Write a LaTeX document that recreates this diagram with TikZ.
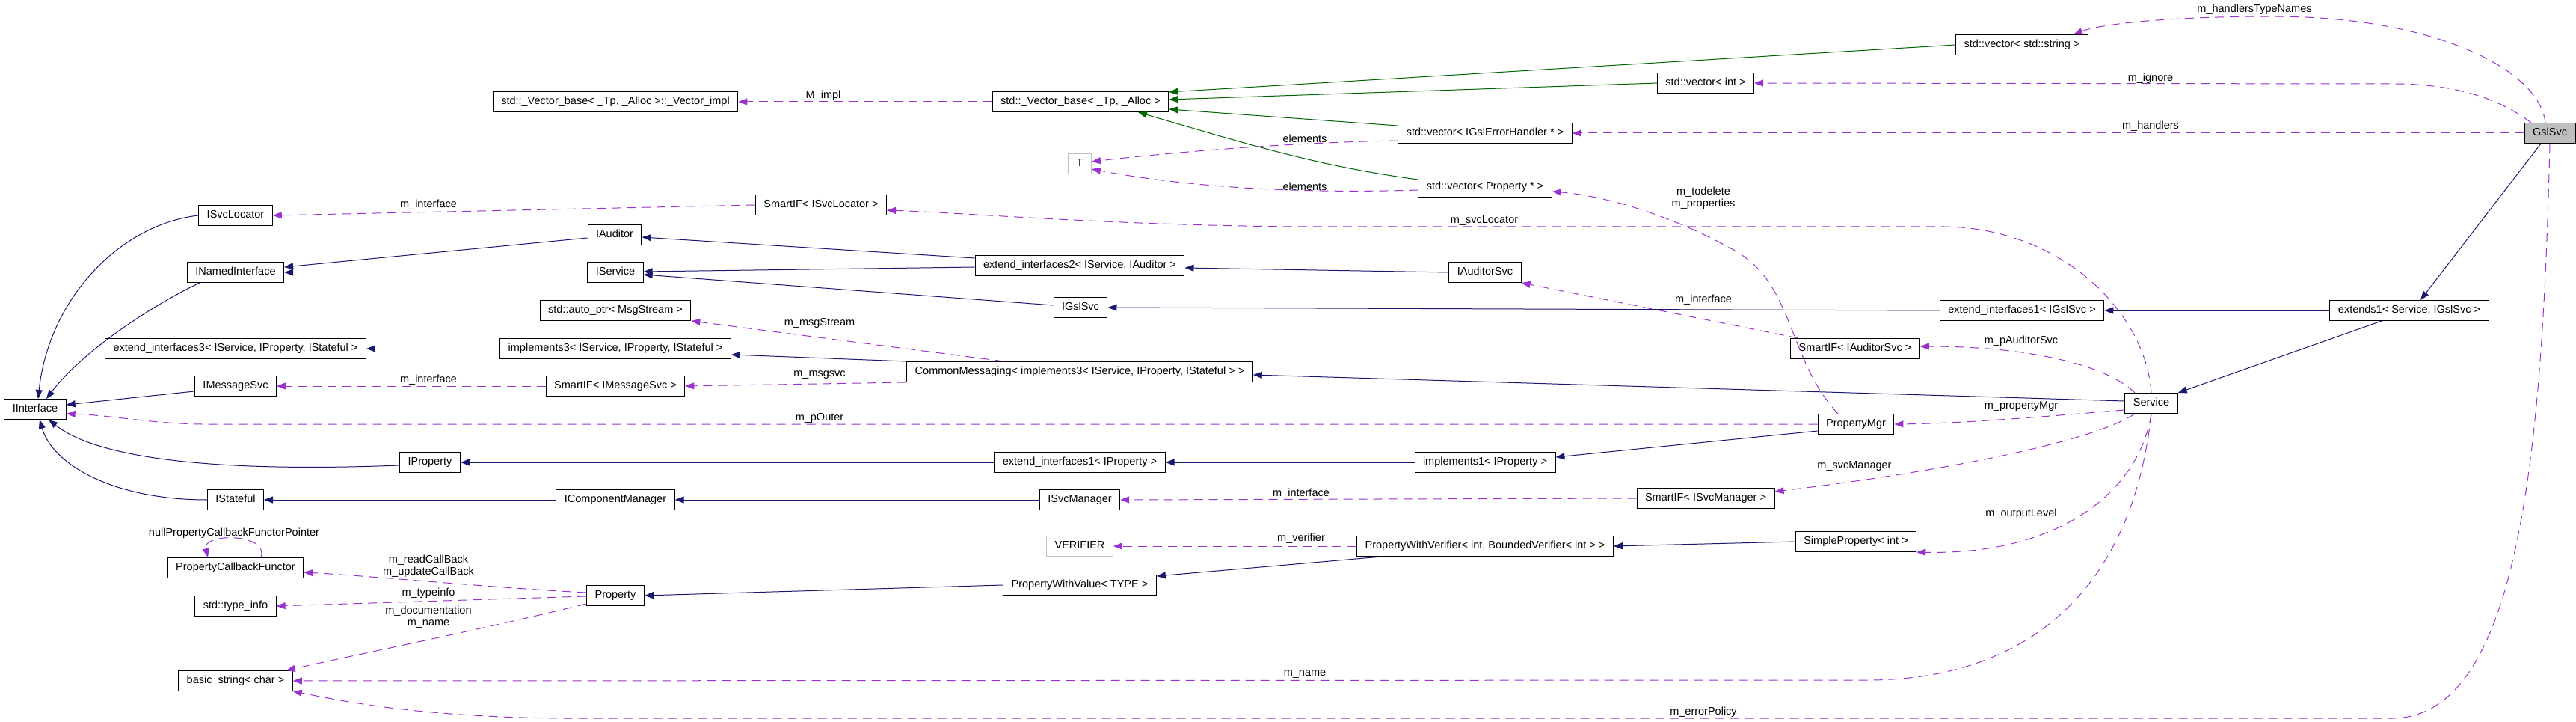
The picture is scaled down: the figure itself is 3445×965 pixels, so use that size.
\documentclass[tikz,border=0pt]{standalone}
\usepackage{fontspec}
\setmainfont{Liberation Sans}
\usetikzlibrary{arrows.meta}
\definecolor{inhblue}{HTML}{191970}
\definecolor{instgreen}{HTML}{006400}
\definecolor{usepurple}{HTML}{9A32CD}
\definecolor{boxgray}{HTML}{BFBFBF}

\begin{document}
\begin{tikzpicture}[x=1pt,y=-1pt,
		font=\fontsize{14.5}{16}\selectfont,
		>={Triangle[length=12pt,width=9pt]},
		cls/.style={draw,line width=1pt,fill=white,minimum height=27pt,inner xsep=11pt,inner ysep=0pt,text height=10.5pt,text depth=3pt},
		undoc/.style={cls,draw=boxgray},
		focus/.style={cls,fill=boxgray},
		lbl/.style={inner sep=0pt,align=center},
		inh/.style={->,draw=inhblue,line width=1pt},
		inst/.style={->,draw=instgreen,line width=1pt},
		use/.style={->,draw=usepurple,line width=1pt,dash pattern=on 12pt off 8pt}]

	\useasboundingbox (0,0) rectangle (3445,965);

	\node [cls] (vimpl) at (823,136) {std::\_Vector\_base< \_Tp, \_Alloc >::\_Vector\_impl};
	\node [cls] (vbase) at (1445,136) {std::\_Vector\_base< \_Tp, \_Alloc >};
	\node [cls] (vstring) at (2704,60) {std::vector< std::string >};
	\node [cls] (vint) at (2281,111) {std::vector< int >};
	\node [cls] (vhandler) at (1986,178) {std::vector< IGslErrorHandler * >};
	\node [cls] (vprop) at (1986,250) {std::vector< Property * >};
	\node [undoc] (tparam) at (1444,219) {T};
	\node [focus] (gslsvc) at (3410,178) {GslSvc};
	\node [cls] (isvcloc) at (315,288) {ISvcLocator};
	\node [cls] (smartloc) at (1098,274) {SmartIF< ISvcLocator >};
	\node [cls] (iauditor) at (822,314) {IAuditor};
	\node [cls] (inamed) at (315,364) {INamedInterface};
	\node [cls] (iservice) at (823,364) {IService};
	\node [cls] (ext2) at (1444,355) {extend\_interfaces2< IService, IAuditor >};
	\node [cls] (iauditsvc) at (1986,364) {IAuditorSvc};
	\node [cls] (iglsvc) at (1445,411) {IGslSvc};
	\node [cls] (autoptr) at (823,415) {std::auto\_ptr< MsgStream >};
	\node [cls] (ext1gsl) at (2704,415) {extend\_interfaces1< IGslSvc >};
	\node [cls] (extends) at (3222,415) {extends1< Service, IGslSvc >};
	\node [cls] (ext3) at (315,466) {extend\_interfaces3< IService, IProperty, IStateful >};
	\node [cls] (impl3) at (823,466) {implements3< IService, IProperty, IStateful >};
	\node [cls] (smartaud) at (2481,466) {SmartIF< IAuditorSvc >};
	\node [cls] (commsg) at (1444,497) {CommonMessaging< implements3< IService, IProperty, IStateful > >};
	\node [cls] (imsgsvc) at (315,516) {IMessageSvc};
	\node [cls] (smartmsg) at (823,516) {SmartIF< IMessageSvc >};
	\node [cls] (service) at (2877,539) {Service};
	\node [cls] (iinterface) at (47,547) {IInterface};
	\node [cls] (propmgr) at (2482,567) {PropertyMgr};
	\node [cls] (iproperty) at (575,618) {IProperty};
	\node [cls] (ext1prop) at (1444,618) {extend\_interfaces1< IProperty >};
	\node [cls] (impl1) at (1986,618) {implements1< IProperty >};
	\node [cls] (istateful) at (315,668) {IStateful};
	\node [cls] (icompmgr) at (823,668) {IComponentManager};
	\node [cls] (isvcmgr) at (1444,668) {ISvcManager};
	\node [cls] (smartmgr) at (2281,666) {SmartIF< ISvcManager >};
	\node [undoc] (verifier) at (1444,730) {VERIFIER};
	\node [cls] (pwverif) at (1986,730) {PropertyWithVerifier< int, BoundedVerifier< int > >};
	\node [cls] (simpleprop) at (2482,724) {SimpleProperty< int >};
	\node [cls] (callback) at (315,759) {PropertyCallbackFunctor};
	\node [cls] (property) at (823,796) {Property};
	\node [cls] (pwvalue) at (1444,782) {PropertyWithValue< TYPE >};
	\node [cls] (typeinfo) at (315,810) {std::type\_info};
	\node [cls] (bstring) at (315,910) {basic\_string< char >};

	\node [lbl] (l-mimpl) at (1097,128) {\_M\_impl};
	\node [lbl] (l-elem1) at (1745,185) {elements};
	\node [lbl] (l-elem2) at (1745,249) {elements};
	\node [lbl] (l-typenames) at (3015,13) {m\_handlersTypeNames};
	\node [lbl] (l-ignore) at (2876,105) {m\_ignore};
	\node [lbl] (l-handlers) at (2876,169) {m\_handlers};
	\node [lbl] (l-locif) at (573,274) {m\_interface};
	\node [lbl] (l-svcloc) at (1985,295) {m\_svcLocator};
	\node [lbl] (l-props) at (2278,265) {m\_todelete\\m\_properties};
	\node [lbl] (l-audif) at (2278,401) {m\_interface};
	\node [lbl] (l-msgstream) at (1096,432) {m\_msgStream};
	\node [lbl] (l-pauditor) at (2703,456) {m\_pAuditorSvc};
	\node [lbl] (l-msgsvc) at (1096,501) {m\_msgsvc};
	\node [lbl] (l-msgif) at (573,508) {m\_interface};
	\node [lbl] (l-propmgr) at (2703,543) {m\_propertyMgr};
	\node [lbl] (l-pouter) at (1096,559) {m\_pOuter};
	\node [lbl] (l-svcmgr) at (2480,623) {m\_svcManager};
	\node [lbl] (l-mgrif) at (1740,660) {m\_interface};
	\node [lbl] (l-outlevel) at (2703,687) {m\_outputLevel};
	\node [lbl] (l-nullcb) at (313,713) {nullPropertyCallbackFunctorPointer};
	\node [lbl] (l-verifier) at (1740,720) {m\_verifier};
	\node [lbl] (l-callback) at (573,757) {m\_readCallBack\\m\_updateCallBack};
	\node [lbl] (l-typeinfo) at (573,793) {m\_typeinfo};
	\node [lbl] (l-doc) at (573,825) {m\_documentation\\m\_name};
	\node [lbl] (l-name) at (1745,901) {m\_name};
	\node [lbl] (l-errpolicy) at (2278,952) {m\_errorPolicy};

	% inheritance
	\draw [inh] (isvcloc.west) .. controls (160,300) and (65,400) .. ([xshift=4pt]iinterface.north);
	\draw [inh] ([xshift=17pt]inamed.south west) .. controls (200,410) and (110,470) .. ([xshift=15pt]iinterface.north);
	\draw [inh] ([yshift=-7pt]imsgsvc.west) -- ([yshift=6pt]iinterface.east);
	\draw [inh] ([yshift=-4pt]iproperty.west) .. controls (330,630) and (140,620) .. ([xshift=18pt]iinterface.south);
	\draw [inh] (istateful.west) .. controls (150,668) and (70,620) .. ([xshift=6pt]iinterface.south);
	\draw [inh] ([yshift=-4pt]iauditor.west) -- ([yshift=7pt]inamed.east);
	\draw [inh] (iservice.west) -- (inamed.east);
	\draw [inh] ([yshift=10pt]ext2.west) -- ([yshift=-3pt]iauditor.east);
	\draw [inh] ([yshift=-2pt]ext2.west) -- ([yshift=1pt]iservice.east);
	\draw [inh] ([yshift=3pt]iglsvc.west) -- ([yshift=-3pt]iservice.east);
	\draw [inh] (iauditsvc.west) -- ([yshift=-3pt]ext2.east);
	\draw [inh] (ext1gsl.west) -- (iglsvc.east);
	\draw [inh] (extends.west) -- (ext1gsl.east);
	\draw [inh] ([xshift=-12pt]gslsvc.south) -- ([xshift=15pt]extends.north);
	\draw [inh] ([xshift=-37pt]extends.south) -- (service.north east);
	\draw [inh] ([yshift=3pt]service.west) -- ([yshift=-4pt]commsg.east);
	\draw [inh] (commsg.north west) -- ([yshift=-8pt]impl3.east);
	\draw [inh] (impl3.west) -- (ext3.east);
	\draw [inh] ([yshift=-9pt]propmgr.west) -- ([yshift=7pt]impl1.east);
	\draw [inh] (impl1.west) -- (ext1prop.east);
	\draw [inh] (ext1prop.west) -- (iproperty.east);
	\draw [inh] (icompmgr.west) -- (istateful.east);
	\draw [inh] (isvcmgr.west) -- (icompmgr.east);
	\draw [inh] ([xshift=34pt]pwverif.south west) -- ([yshift=12pt]pwvalue.east);
	\draw [inh] (simpleprop.west) -- (pwverif.east);
	\draw [inh] (pwvalue.west) -- (property.east);

	% template instances
	\draw [inst] (vstring.west) -- ([yshift=13pt]vbase.east);
	\draw [inst] (vint.west) -- ([yshift=3pt]vbase.east);
	\draw [inst] ([yshift=10pt]vhandler.west) -- ([yshift=-10pt]vbase.east);
	\draw [inst] ([yshift=10pt]vprop.west) .. controls (1760,222) and (1660,190) .. ([xshift=77pt]vbase.south);

	% usage
	\draw [use] (vbase.west) -- (vimpl.east);
	\draw [use] ([yshift=-10pt]vhandler.west) .. controls (1750,190) and (1600,200) .. ([yshift=3pt]tparam.east);
	\draw [use] ([yshift=-4pt]vprop.west) .. controls (1700,260) and (1560,245) .. ([yshift=-7pt]tparam.east);
	\draw [use] ([xshift=-6pt]gslsvc.north) .. controls (3395,90) and (3250,22) .. (3040,22)
		.. controls (2900,22) and (2810,32) .. ([xshift=69pt]vstring.north);
	\draw [use] ([xshift=-25pt]gslsvc.north) .. controls (3340,130) and (3280,112) .. (3200,112) -- (vint.east);
	\draw [use] (gslsvc.west) -- (vhandler.east);
	\draw [use] (gslsvc.south) .. controls (3400,600) and (3370,958) .. (3200,960) -- (750,960)
		.. controls (550,958) and (450,935) .. ([yshift=-14pt]bstring.east);
	\draw [use] (service.north) .. controls (2870,420) and (2760,305) .. (2600,303) -- (1750,303)
		.. controls (1500,302) and (1300,285) .. ([yshift=-7pt]smartloc.east);
	\draw [use] (smartloc.west) -- (isvcloc.east);
	\draw [use] ([xshift=-24pt]propmgr.north) .. controls (2390,480) and (2400,380) .. (2320,335)
		.. controls (2240,290) and (2150,262) .. ([yshift=-6pt]vprop.east);
	\draw [use] ([xshift=11pt]smartaud.north west) -- (iauditsvc.south east);
	\draw [use] ([xshift=-22pt]service.north) .. controls (2820,490) and (2720,463) .. ([yshift=3pt]smartaud.east);
	\draw [use] ([xshift=-101pt]commsg.north) -- (autoptr.south east);
	\draw [use] (commsg.south west) -- (smartmsg.east);
	\draw [use] (smartmsg.west) -- (imsgsvc.east);
	\draw [use] (propmgr.west) -- (270,567) .. controls (200,566) and (150,555) .. ([yshift=-6pt]iinterface.east);
	\draw [use] ([yshift=-9pt]service.west) .. controls (2720,558) and (2620,566) .. (propmgr.east);
	\draw [use] ([xshift=-22pt]service.south) .. controls (2800,590) and (2600,630) .. ([yshift=9pt]smartmgr.east);
	\draw [use] (smartmgr.west) -- (isvcmgr.east);
	\draw [use] (service.south) .. controls (2860,660) and (2750,742) .. (simpleprop.south east);
	\draw [use] (service.south) .. controls (2850,800) and (2700,908) .. (2500,909) -- (bstring.east);
	\draw [use] (pwverif.west) -- (verifier.east);
	\draw [use] ([yshift=4pt]property.west) .. controls (650,785) and (500,770) .. ([yshift=-6pt]callback.east);
	\draw [use] ([yshift=-1pt]property.west) -- (typeinfo.east);
	\draw [use] ([yshift=-11pt]property.west) .. controls (650,840) and (500,870) .. ([xshift=-9pt]bstring.north east);
	\draw [use] ([xshift=34pt]callback.north) .. controls (360,712) and (270,712) .. ([xshift=-37pt]callback.north);
\end{tikzpicture}
\end{document}
